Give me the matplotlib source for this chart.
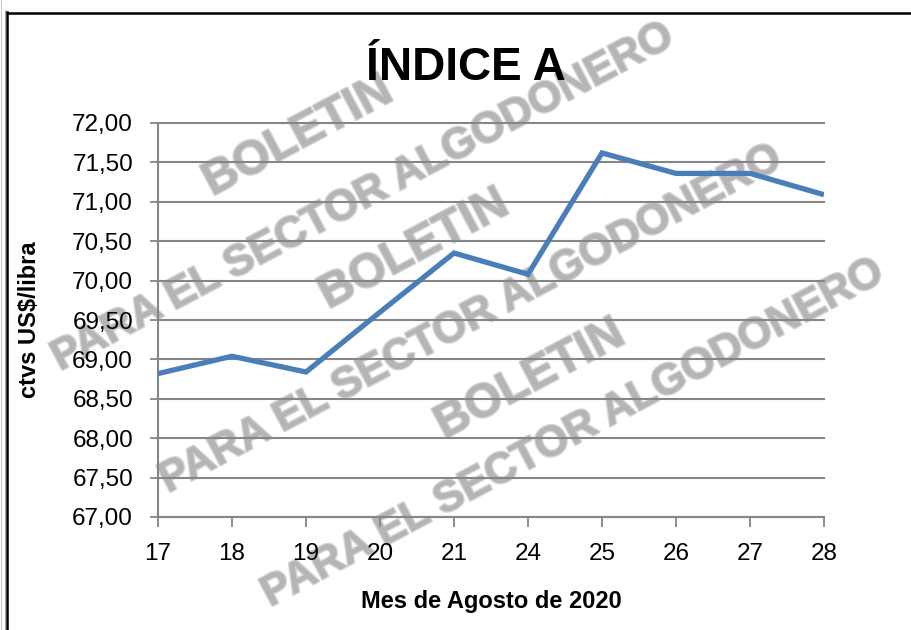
import matplotlib
matplotlib.use("Agg")
import matplotlib.pyplot as plt
from matplotlib import font_manager as fm
from matplotlib.lines import Line2D
import matplotlib.patheffects as pe

# ---- data ----
dias = ["17", "18", "19", "20", "21", "24", "25", "26", "27", "28"]
indice_a = [68.82, 69.04, 68.84, 69.60, 70.35, 70.08, 71.62, 71.36, 71.36, 71.09]
y_ticks = [67.0, 67.5, 68.0, 68.5, 69.0, 69.5, 70.0, 70.5, 71.0, 71.5, 72.0]
titulo = "ÍNDICE A"
x_titulo = "Mes de Agosto de 2020"
y_titulo = "ctvs US$/libra"
wm_boletin = "BOLETIN"
wm_sector = "PARA EL SECTOR ALGODONERO"

names = {f.name for f in fm.fontManager.ttflist}
FONT = "Liberation Sans Narrow" if "Liberation Sans Narrow" in names else "Liberation Sans"
WMFONT = "Liberation Sans" if "Liberation Sans" in names else "DejaVu Sans"
plt.rcParams["font.family"] = [FONT, "DejaVu Sans"]

W, H = 911, 630
fig = plt.figure(figsize=(W / 100, H / 100), dpi=100)
fig.patch.set_facecolor("white")

ax = fig.add_axes([158 / W, (H - 517) / H, (824 - 158) / W, (517 - 123) / H])
ax.patch.set_alpha(0)

x = list(range(len(dias)))
ax.plot(x, indice_a, color="#4a7ebb", lw=3.8, solid_joinstyle="miter",
        solid_capstyle="butt", zorder=5)

ax.set_xlim(0, len(dias) - 1)
ax.set_ylim(67, 72)
ax.set_xticks(x)
ax.set_xticklabels(dias)
ax.set_yticks(y_ticks)
ax.set_yticklabels([f"{v:.2f}".replace(".", ",") for v in y_ticks])

grey = "#868686"
ax.yaxis.grid(True, color=grey, lw=1.5)
for gl in ax.yaxis.get_gridlines():
    gl.set_clip_on(False)
ax.set_axisbelow(True)
for s in ["top", "right"]:
    ax.spines[s].set_visible(False)
for s in ["left", "bottom"]:
    ax.spines[s].set_color(grey)
    ax.spines[s].set_linewidth(1.5)
ax.tick_params(axis="x", length=7, width=1.3, color=grey, pad=12,
               labelsize=17.5, labelcolor="black")
ax.tick_params(axis="y", length=6, width=1.3, color=grey, pad=12,
               labelsize=17.5, labelcolor="black")

ax.set_xlabel(x_titulo, fontsize=17, fontweight="bold", labelpad=18)
ax.set_ylabel(y_titulo, fontsize=17, fontweight="bold", labelpad=22)
fig.text(466 / W, 1 - 68 / H, titulo, fontsize=33, fontweight="bold",
         ha="center", va="center")

# ---- watermark ----
def wm(cx, cy, text, size):
    fig.text(cx / W, 1 - cy / H, text, fontsize=size, fontweight="bold",
             family=WMFONT, color="#b5b5b5", rotation=28,
             rotation_mode="anchor", ha="center", va="center", zorder=-1,
             path_effects=[pe.withStroke(linewidth=2, foreground="#d4d4d4")])

wm(298, 137, wm_boletin, 34)
wm(362, 198, wm_sector, 31)
wm(414, 250, wm_boletin, 34)
wm(470, 320, wm_sector, 31)
wm(530, 380, wm_boletin, 34)
wm(572, 434, wm_sector, 31)

# ---- frame ----
fig.add_artist(Line2D([6.5 / W, 6.5 / W], [0, 1 - 12 / H], color="black",
                      lw=1.8, transform=fig.transFigure))
fig.add_artist(Line2D([6.5 / W, 1.0], [1 - 12.5 / H, 1 - 12.5 / H],
                      color="black", lw=1.8, transform=fig.transFigure))
fig.add_artist(Line2D([4.5 / W, 4.5 / W], [0, 1 - 10 / H], color="#aaaaaa",
                      lw=0.8, transform=fig.transFigure))
fig.add_artist(Line2D([1 / W, 1 / W], [0, 1], color="#cccccc",
                      lw=0.8, transform=fig.transFigure))

fig.savefig("out.png", dpi=100)
